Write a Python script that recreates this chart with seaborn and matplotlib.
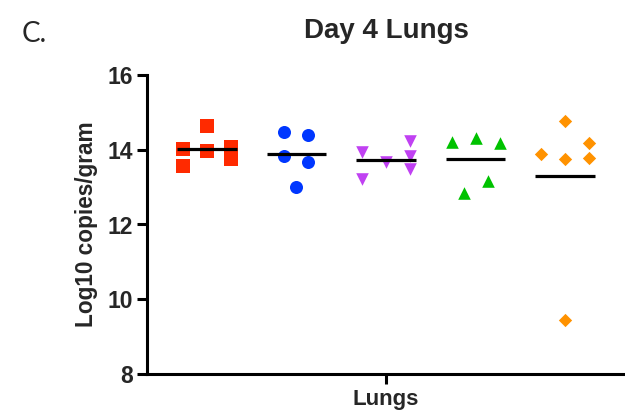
import matplotlib
matplotlib.use("Agg")
import matplotlib.pyplot as plt
import numpy as np
import pandas as pd
import seaborn as sns

# ---- data ----
group_names = ["Group 1", "Group 2", "Group 3", "Group 4", "Group 5"]
g1_values = [13.57, 14.03, 14.64, 13.97, 14.08, 13.76]
g2_values = [14.48, 14.40, 13.84, 13.68, 12.99]
g3_values = [13.93, 13.22, 13.66, 14.24, 13.82, 13.49]
g4_values = [14.22, 14.31, 14.18, 13.16, 12.85]
g5_values = [14.77, 13.88, 13.74, 14.19, 13.78, 9.45]
group_means = [14.02, 13.88, 13.72, 13.75, 13.31]
y_ticks = [8, 10, 12, 14, 16]
x_tick_label = "Lungs"

# horizontal column slot of each point inside its group (scatter layout)
g1_slots = [-1, -1, 0, 0, 1, 1]
g2_slots = [-0.5, 0.5, -0.5, 0.5, 0]
g3_slots = [-1, -1, 0, 1, 1, 1]
g4_slots = [-1, 0, 1, 0.5, -0.5]
g5_slots = [0, -1, 0, 1, 1, 0]

colors = ["#FF2A00", "#0037FF", "#C041F2", "#00C200", "#FF9200"]
marker_list = ["s", "o", "v", "^", "D"]
marker_sizes = [88, 88, 82, 82, 46]

all_values = [g1_values, g2_values, g3_values, g4_values, g5_values]
all_slots = [g1_slots, g2_slots, g3_slots, g4_slots, g5_slots]

rows = []
for gi, (name, vals, slots) in enumerate(zip(group_names, all_values, all_slots)):
    for v, sl in zip(vals, slots):
        rows.append({"group": name, "x": gi + sl * 0.268, "value": v})
df = pd.DataFrame(rows)

sns.set_style("ticks")
plt.rcParams["font.family"] = ["Liberation Sans", "DejaVu Sans"]

fig = plt.figure(figsize=(6.25, 4.19), dpi=100)
ax = fig.add_axes([147 / 625, 1 - 374 / 419, 478 / 625, 299 / 419])

for gi, name in enumerate(group_names):
    sub = df[df["group"] == name]
    sns.scatterplot(data=sub, x="x", y="value", ax=ax, color=colors[gi],
                    marker=marker_list[gi], s=marker_sizes[gi], linewidth=0,
                    legend=False, zorder=3)

centers = np.arange(len(group_names))
ax.hlines(group_means, centers - 0.33, centers + 0.33, colors="black",
          linewidth=2.3, zorder=4)

ax.set_xlim(-0.67, len(group_names) - 1 + 0.67)
ax.set_ylim(8, 16)
ax.set_yticks(y_ticks)
ax.set_yticklabels([str(t) for t in y_ticks], fontsize=16.5, fontweight="bold")
ax.set_xticks([centers.mean()])
ax.set_xticklabels([x_tick_label], fontsize=16, fontweight="bold")
ax.set_xlabel("")
ax.set_ylabel("Log10 copies/gram", fontsize=16.3, fontweight="bold", labelpad=7)

for side in ["top", "right"]:
    ax.spines[side].set_visible(False)
for side in ["left", "bottom"]:
    ax.spines[side].set_linewidth(2.2)
    ax.spines[side].set_color("black")
ax.tick_params(axis="both", width=2.2, length=7, color="black", pad=3)
ax.tick_params(axis="x", pad=4)
ax.set_title("Day 4 Lungs", fontsize=20, fontweight="bold", pad=27)

fig.text(22 / 625, 1 - 42 / 419, "C.", fontsize=20, family=["Lato", "DejaVu Sans"],
         ha="left", va="baseline")

fig.savefig("out.png", dpi=100)
